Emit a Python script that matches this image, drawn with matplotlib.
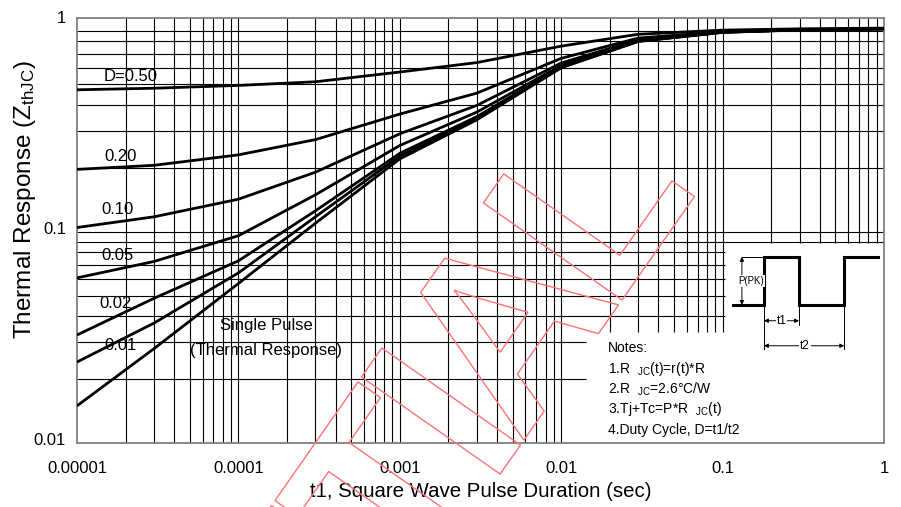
import matplotlib
matplotlib.use("Agg")
import matplotlib.pyplot as plt
import matplotlib.transforms as mtransforms
from matplotlib.textpath import TextPath
from matplotlib.patches import PathPatch
from matplotlib.font_manager import FontProperties

plt.rcParams['font.family'] = ['Liberation Sans', 'DejaVu Sans']
plt.rcParams['mathtext.fontset'] = 'custom'
plt.rcParams['mathtext.rm'] = 'Liberation Sans'
plt.rcParams['mathtext.it'] = 'Liberation Sans:italic'
plt.rcParams['mathtext.bf'] = 'Liberation Sans:bold'
plt.rcParams['mathtext.default'] = 'rm'

# normalized transient thermal impedance, read at these pulse widths (sec)
pulse_t = [1e-5, 3e-5, 1e-4, 3e-4, 1e-3, 3e-3, 1e-2, 3e-2, 0.1, 0.3, 1.0]
z_d50 = [0.472, 0.480, 0.495, 0.515, 0.573, 0.635, 0.760, 0.865, 0.905, 0.918, 0.925]
z_d20 = [0.198, 0.207, 0.232, 0.274, 0.362, 0.455, 0.665, 0.830, 0.890, 0.910, 0.920]
z_d10 = [0.105, 0.118, 0.143, 0.192, 0.292, 0.398, 0.632, 0.815, 0.888, 0.910, 0.920]
z_d05 = [0.0606, 0.0725, 0.096, 0.150, 0.257, 0.370, 0.615, 0.808, 0.886, 0.908, 0.918]
z_d02 = [0.0325, 0.0485, 0.073, 0.126, 0.236, 0.352, 0.606, 0.803, 0.885, 0.908, 0.918]
z_d01 = [0.0242, 0.037, 0.064, 0.118, 0.229, 0.346, 0.603, 0.801, 0.884, 0.907, 0.918]
z_single = [0.015, 0.028, 0.057, 0.110, 0.222, 0.340, 0.600, 0.800, 0.883, 0.906, 0.917]

curve_labels = ["D=0.50", "0.20", "0.10", "0.05", "0.02", "0.01"]
label_t = [2.16e-5, 1.85e-5, 1.79e-5, 1.77e-5, 1.74e-5, 1.87e-5]
label_z = [0.543, 0.229, 0.128, 0.0770, 0.0456, 0.0291]

x_ticks = [1e-5, 1e-4, 1e-3, 1e-2, 1e-1, 1]
x_ticklabels = ["0.00001", "0.0001", "0.001", "0.01", "0.1", "1"]
y_ticks = [0.01, 0.1, 1]
y_ticklabels = ["0.01", "0.1", "1"]

notes = ["Notes:",
         "1.R  $_{JC}$(t)=r(t)*R",
         "2.R  $_{JC}$=2.6°C/W",
         "3.Tj+Tc=P*R  $_{JC}$(t)",
         "4.Duty Cycle, D=t1/t2"]

W, H = 901, 507
fig = plt.figure(figsize=(W / 100, H / 100), dpi=100)
ax = fig.add_axes([77 / W, 1 - 443 / H, 807 / W, 425 / H])
ax.set_xscale('log')
ax.set_yscale('log')
ax.set_xlim(1e-5, 1)
ax.set_ylim(0.01, 1.033)


def log_grid(lo_exp, hi_exp):
    vals = []
    for e in range(lo_exp, hi_exp):
        for m in range(1, 10):
            vals.append(m * 10.0 ** e)
    return vals


# grid is left open where the notes and pulse sketch sit
for xv in log_grid(-5, 0)[1:]:
    if 0.015 < xv <= 0.105:
        y0 = 0.0336
    elif xv > 0.105:
        y0 = 0.0888
    else:
        y0 = 0.01
    ax.vlines(xv, y0, 1.033, color='black', lw=0.8, zorder=1)
for yv in log_grid(-2, 0)[1:]:
    if yv < 0.035:
        x1 = 0.0143
    elif yv < 0.085:
        x1 = 0.104
    else:
        x1 = 1
    ax.hlines(yv, 1e-5, x1, color='black', lw=0.8, zorder=1)

for z in [z_d50, z_d20, z_d10, z_d05, z_d02, z_d01, z_single]:
    ax.plot(pulse_t, z, color='black', lw=2.0, zorder=3, solid_capstyle='butt')

for txt, tx, tz in zip(curve_labels, label_t, label_z):
    ax.text(tx, tz, txt, fontsize=12, ha='center', va='center', zorder=4)
ax.text(1.48e-4, 0.0362, "Single Pulse", fontsize=12, ha='center', va='center', zorder=4)
ax.text(1.48e-4, 0.0273, "(Thermal Response)", fontsize=12, ha='center', va='center', zorder=4)

ax.set_xticks(x_ticks, x_ticklabels)
ax.set_yticks(y_ticks, y_ticklabels)
ax.minorticks_off()
ax.tick_params(length=0, labelsize=12)
ax.tick_params(axis='x', pad=13)
ax.tick_params(axis='y', pad=8)
# y labels sit a little above their grid lines
lift = mtransforms.ScaledTranslation(0, 0.04, fig.dpi_scale_trans)
for lbl in ax.get_yticklabels():
    lbl.set_transform(lbl.get_transform() + lift)
for sp in ax.spines.values():
    sp.set_color('#808080')
    sp.set_linewidth(1.3)

ax.set_xlabel("t1, Square Wave Pulse Duration (sec)", fontsize=14.7)
ax.xaxis.set_label_coords(0.5, -(482 - 443) / 425)
ax.set_ylabel("Thermal Response (Z$_{thJC}$)", fontsize=17.5)
ax.yaxis.set_label_coords(-(77 - 38) / 807, 1 - (200 - 18) / 425)

for i, line in enumerate(notes):
    fig.text(608 / W, 1 - (348 + 20.5 * i) / H, line, fontsize=10, ha='left', va='center')

# duty cycle pulse sketch
pax = fig.add_axes([730 / W, 1 - 352 / H, 152 / W, 100 / H])
pax.set_xlim(-0.97, 3.37)
pax.set_ylim(-0.98, 1.10)
pax.axis('off')
pax.plot([-0.89, 0, 0, 1, 1, 2.29, 2.29, 3.26], [0, 0, 1, 1, 0, 0, 1, 1],
         color='black', lw=2.2, solid_joinstyle='miter')
thin = dict(color='black', lw=0.7)
pax.plot([-0.63, 0], [1, 1], **thin)
pax.plot([0, 0], [0, -0.92], **thin)
pax.plot([1, 1], [0, -0.42], **thin)
pax.plot([2.29, 2.29], [0, -0.92], **thin)
arrow = dict(arrowstyle='<|-|>', color='black', lw=0.7, mutation_scale=6, shrinkA=0, shrinkB=0)
pax.annotate("", xy=(-0.63, 1), xytext=(-0.63, 0), arrowprops=arrow)
pax.annotate("", xy=(0, -0.33), xytext=(1, -0.33), arrowprops=arrow)
pax.annotate("", xy=(0, -0.85), xytext=(2.29, -0.85), arrowprops=arrow)
box = dict(facecolor='white', edgecolor='none', pad=0.5)
pax.text(-0.37, 0.5, "P(PK)", fontsize=7, ha='center', va='center', bbox=box)
pax.text(0.5, -0.33, "t1", fontsize=8.5, ha='center', va='center', bbox=box)
pax.text(1.17, -0.85, "t2", fontsize=8.5, ha='center', va='center', bbox=box)

# outlined diagonal watermark
wm_prop = FontProperties(family='Liberation Sans', weight='bold')
em = 246
gap = 6
cursor = 0.0
glyphs = []
for ch in "CONFIDENTIAL":
    tp = TextPath((0, 0), ch, size=em, prop=wm_prop)
    ext = tp.get_extents()
    glyphs.append((tp, cursor - ext.x0))
    cursor += ext.width + gap
last_left = glyphs[-1][1] + TextPath((0, 0), "L", size=em, prop=wm_prop).get_extents().x0
base = mtransforms.Affine2D().translate(-last_left, 0).rotate_deg(55).translate(622, H - 300)
for tp, dx in glyphs:
    patch = PathPatch(tp, transform=mtransforms.Affine2D().translate(dx, 0) + base,
                      facecolor='none', edgecolor='#ff7373', lw=1.0, zorder=10)
    fig.add_artist(patch)

fig.savefig("out.png", dpi=100)
